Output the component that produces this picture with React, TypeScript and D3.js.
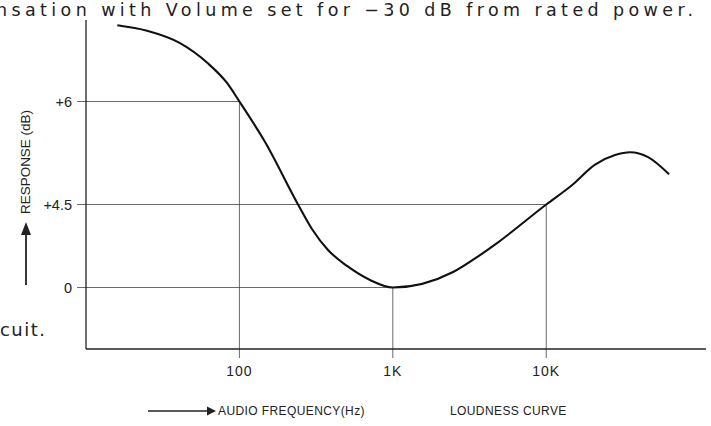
import * as d3 from "d3";

// loudness curve (Hz, dB)
const freqHz = [16, 25, 41, 62, 83, 100, 146, 241, 297, 378, 503, 710, 1000, 2470, 3700, 4780, 10000, 14700, 20800, 28100, 35200, 46100, 63200];
const responseDb = [7.11, 7.03, 6.85, 6.56, 6.27, 6, 5.42, 4.5, 3.17, 2.03, 1.17, 0.41, 0, 0.84, 1.76, 2.41, 4.5, 4.78, 5.08, 5.22, 5.26, 5.19, 4.94];

// reference points with guide lines
const markFreqHz = [100, 1000, 10000];
const markDb = [6, 0, 4.5];
const xTickLabels = ["100", "1K", "10K"];

const yTickDb = [6, 4.5, 0];
const yTickLabels = ["+6", "+4.5", "0"];

const W = 711;
const H = 426;
const axisY = 349;
const axisX = 86;

const labelFont = "'Liberation Sans', Arial, sans-serif";
const textFont = "'DejaVu Sans', 'Open Sans', sans-serif";

export default function App() {
  const x = d3.scaleLog().domain([10, 110000]).range([axisX, 706]);
  // the drawing is not to scale, so the dB axis is piecewise
  const y = d3.scaleLinear().domain([0, 4.5, 6]).range([287.5, 204.5, 101.5]);

  const line = d3
    .line<number>()
    .x((_, i) => x(freqHz[i]))
    .y((d) => y(d))
    .curve(d3.curveMonotoneX);

  return (
    <svg width={W} height={H} style={{ position: "absolute", left: 0, top: 0, background: "#fff" }}>
      <text x={-4} y={16} fontFamily={textFont} fontSize={17.5} fill="#222" textLength={697} lengthAdjust="spacing">
        nsation with Volume set for −30 dB from rated power.
      </text>
      <text x={0} y={336} fontFamily={textFont} fontSize={18} fill="#222" textLength={45} lengthAdjust="spacing">
        cuit.
      </text>

      {/* guide lines */}
      {markFreqHz.map((f, i) => (
        <g key={f} stroke="#444" strokeWidth={0.8}>
          <line x1={77} x2={x(f)} y1={y(markDb[i])} y2={y(markDb[i])} />
          <line x1={x(f)} x2={x(f)} y1={y(markDb[i])} y2={axisY + 9} />
        </g>
      ))}

      {/* axes */}
      <line x1={axisX} x2={axisX} y1={20} y2={axisY} stroke="#222" strokeWidth={1.3} />
      <line x1={axisX} x2={706} y1={axisY} y2={axisY} stroke="#222" strokeWidth={1.5} />

      {yTickDb.map((d, i) => (
        <text key={d} x={72} y={y(d) + 5} textAnchor="end" fontFamily={labelFont} fontSize={14.5} fill="#222">
          {yTickLabels[i]}
        </text>
      ))}
      {markFreqHz.map((f, i) => (
        <text key={f} x={x(f)} y={376} textAnchor="middle" fontFamily={labelFont} fontSize={14} letterSpacing={1} fill="#222">
          {xTickLabels[i]}
        </text>
      ))}

      <path d={line(responseDb) ?? ""} fill="none" stroke="#111" strokeWidth={2.1} />

      {/* y axis title */}
      <text transform="translate(30,162) rotate(-90)" textAnchor="middle" fontFamily={labelFont} fontSize={12} fill="#222" textLength={104} lengthAdjust="spacingAndGlyphs">
        RESPONSE (dB)
      </text>
      <line x1={26} x2={26} y1={285} y2={232} stroke="#222" strokeWidth={1.8} />
      <path d="M26,222 L21,235 L31,235 Z" fill="#222" />

      {/* x axis title */}
      <line x1={148} x2={208} y1={411} y2={411} stroke="#222" strokeWidth={1.3} />
      <path d="M216,411 L207,406.5 L207,415.5 Z" fill="#222" />
      <text x={218} y={415} fontFamily={labelFont} fontSize={12} letterSpacing={0.4} fill="#222">
        AUDIO FREQUENCY(Hz)
      </text>
      <text x={450} y={415} fontFamily={labelFont} fontSize={12} letterSpacing={0.4} fill="#222">
        LOUDNESS CURVE
      </text>
    </svg>
  );
}
